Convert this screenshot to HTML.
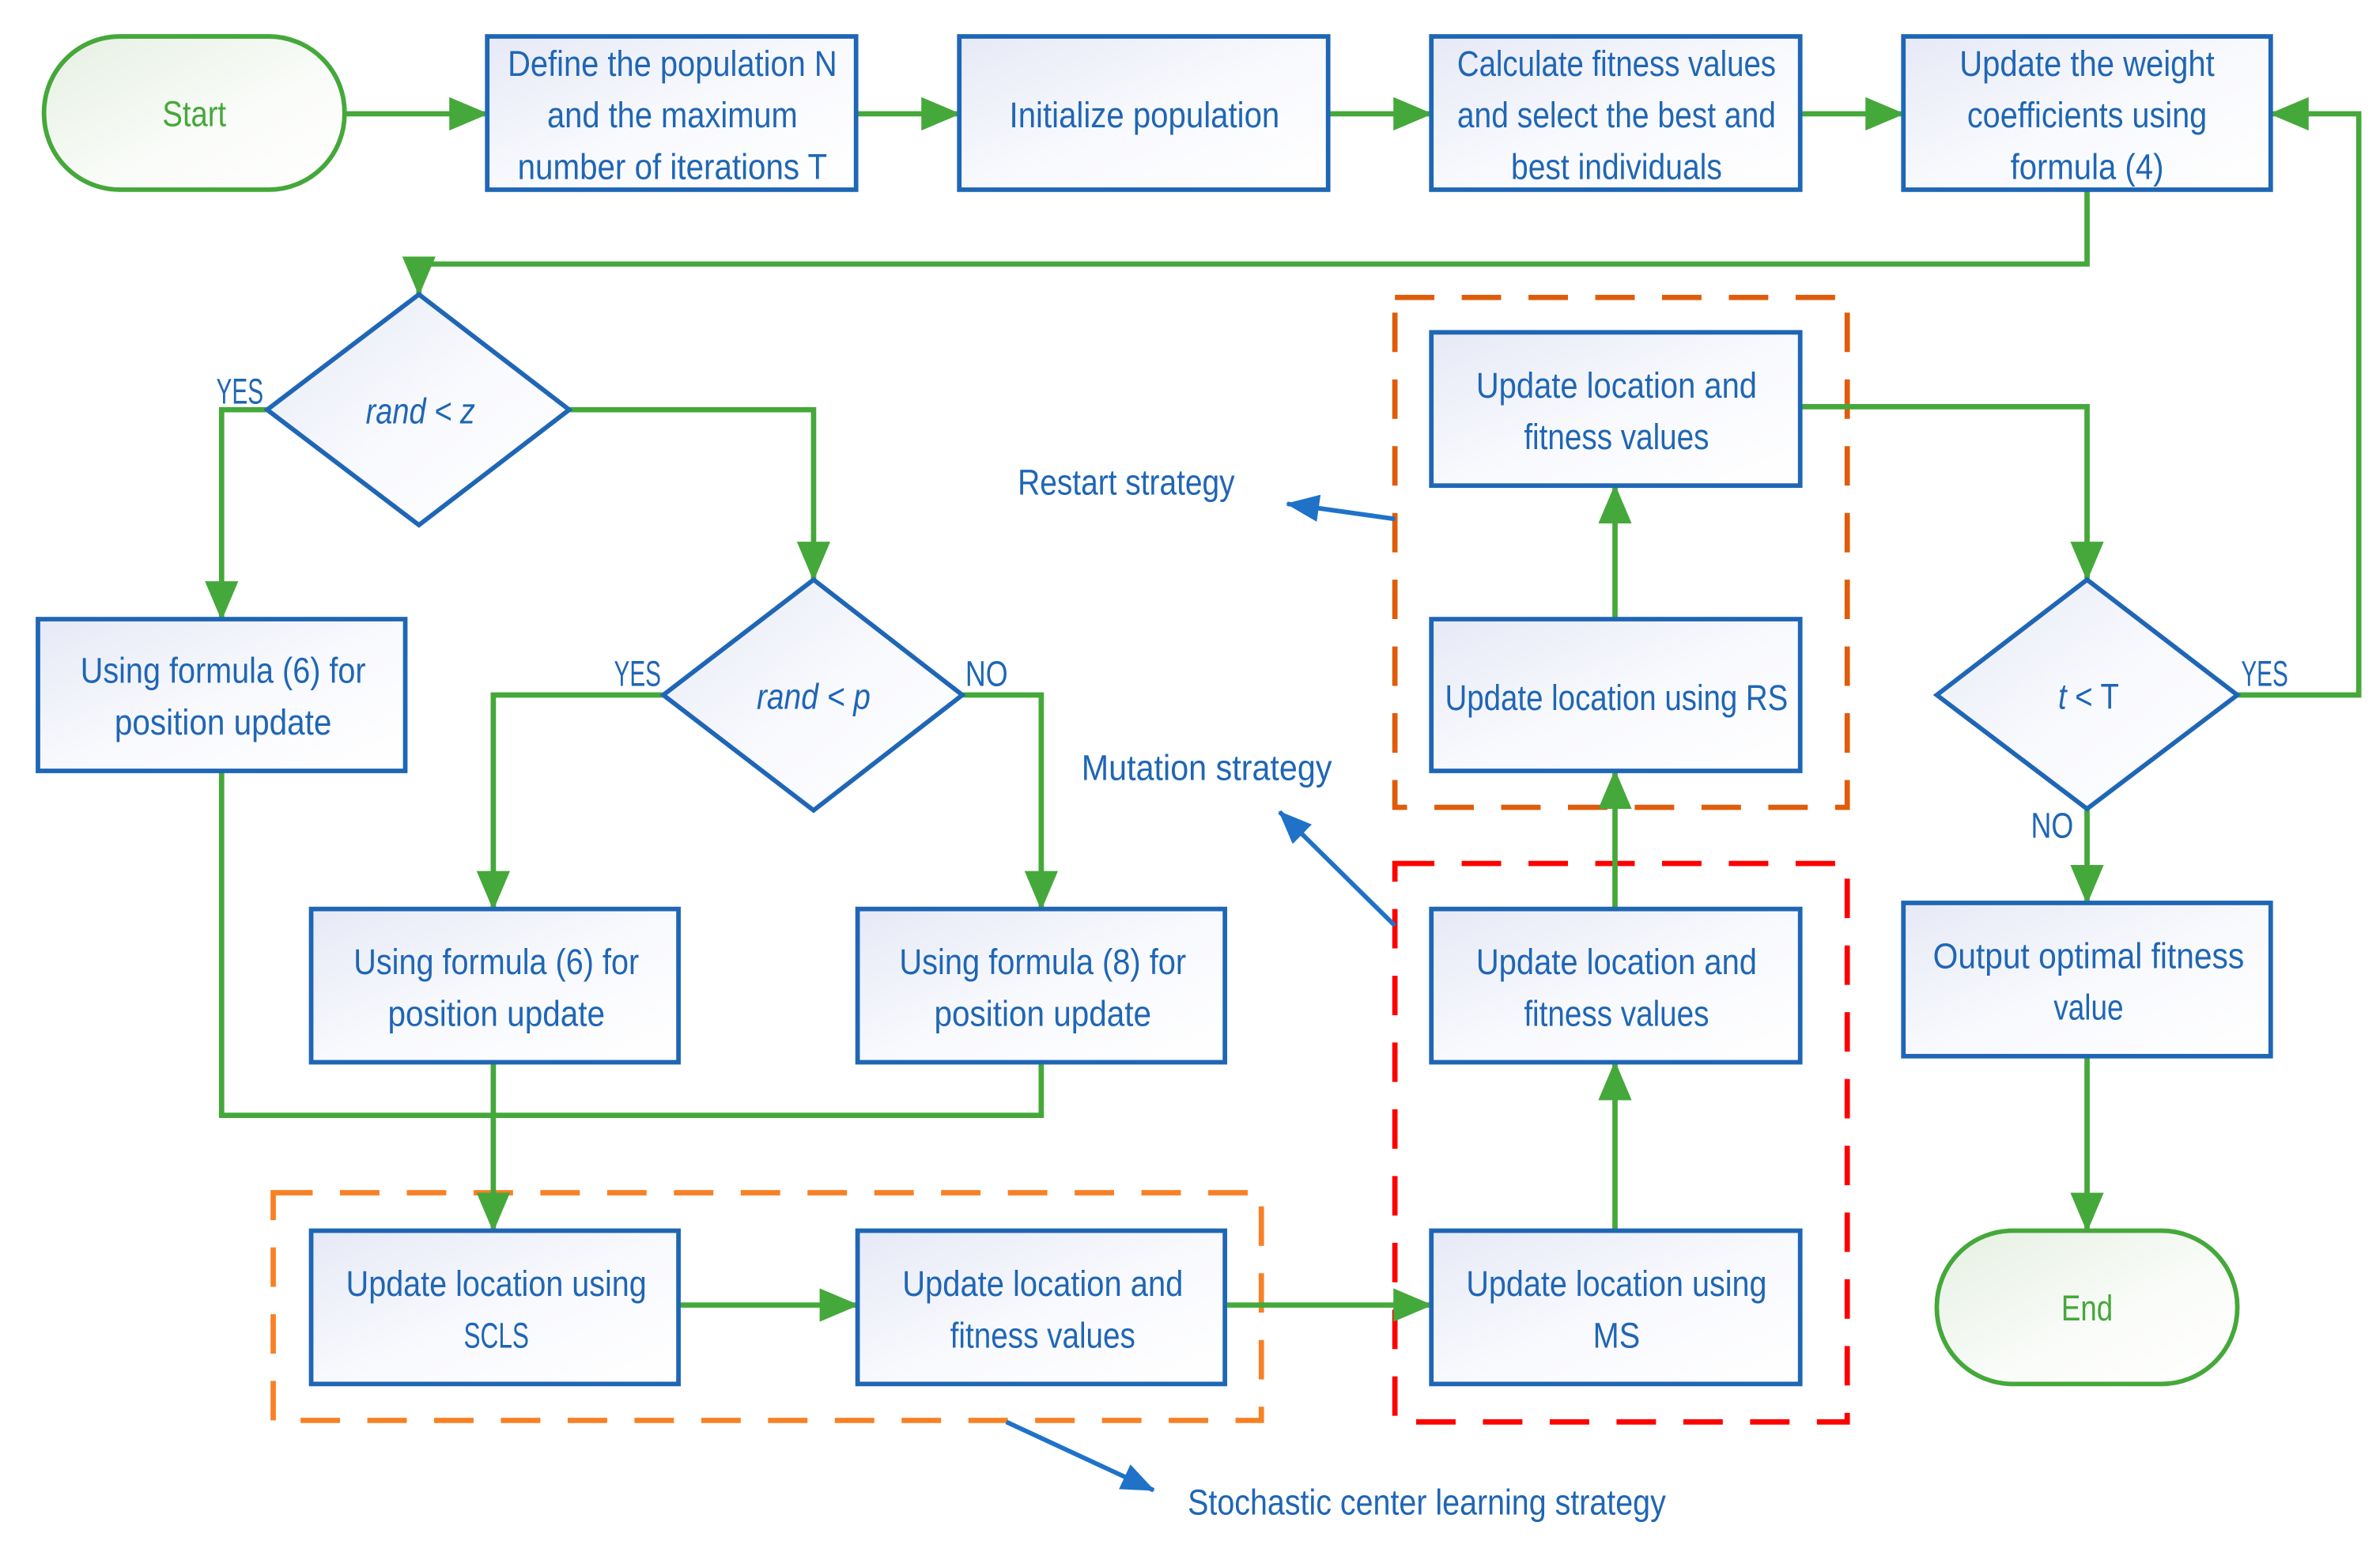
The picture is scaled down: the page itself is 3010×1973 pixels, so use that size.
<!DOCTYPE html>
<html><head><meta charset="utf-8"><style>
html,body{margin:0;padding:0;background:#fff;}
svg{display:block;}
text{font-family:"Liberation Sans",sans-serif;font-size:23.5px;fill:#1f66b5;text-anchor:middle;}
.g{fill:#45a83a;}
</style></head><body>
<svg width="3010" height="1973" viewBox="0 0 1568 1028" preserveAspectRatio="none" xmlns="http://www.w3.org/2000/svg">
<defs>
<linearGradient id="bf" x1="0" y1="0" x2="1" y2="1"><stop offset="0" stop-color="#e6e9f6"/><stop offset="0.5" stop-color="#f8f9fd"/><stop offset="1" stop-color="#ffffff"/></linearGradient>
<linearGradient id="gf" x1="0" y1="0" x2="1" y2="1"><stop offset="0" stop-color="#e6f0e3"/><stop offset="0.6" stop-color="#fafcf9"/><stop offset="1" stop-color="#ffffff"/></linearGradient>
<marker id="agl" markerWidth="26" markerHeight="22" refX="25" refY="11" orient="auto" markerUnits="userSpaceOnUse" viewBox="0 0 26 22"><path d="M0,0 L26,11 L0,22 z" fill="#45a83a"/></marker>
<marker id="ab" markerWidth="22" markerHeight="18" refX="21" refY="9" orient="auto" markerUnits="userSpaceOnUse" viewBox="0 0 22 18"><path d="M0,0 L22,9 L0,18 z" fill="#1f72c8"/></marker>
</defs>

<rect x="919" y="196" width="298" height="336" fill="none" stroke="#e05c0a" stroke-width="3.5" stroke-dasharray="26,18"/>
<rect x="919" y="569" width="298" height="368" fill="none" stroke="#ff0000" stroke-width="3.5" stroke-dasharray="26,18"/>
<rect x="180" y="786" width="651" height="150" fill="none" stroke="#f88025" stroke-width="3.5" stroke-dasharray="26,18"/>

<g stroke="#45a83a" stroke-width="3.5" fill="none">
<line x1="227" y1="75" x2="321" y2="75" marker-end="url(#agl)"/>
<line x1="564" y1="75" x2="632" y2="75" marker-end="url(#agl)"/>
<line x1="875" y1="75" x2="943" y2="75" marker-end="url(#agl)"/>
<line x1="1186" y1="75" x2="1254" y2="75" marker-end="url(#agl)"/>
<polyline points="1375,125 1375,174 276,174 276,194" marker-end="url(#agl)"/>
<polyline points="176,270 146,270 146,408" marker-end="url(#agl)"/>
<polyline points="375,270 536,270 536,382" marker-end="url(#agl)"/>
<polyline points="437,458 325,458 325,599" marker-end="url(#agl)"/>
<polyline points="634,458 686,458 686,599" marker-end="url(#agl)"/>
<polyline points="146,508 146,735 686,735 686,700"/>
<line x1="325" y1="700" x2="325" y2="811" marker-end="url(#agl)"/>
<line x1="447" y1="860" x2="565" y2="860" marker-end="url(#agl)"/>
<line x1="807" y1="860" x2="943" y2="860" marker-end="url(#agl)"/>
<line x1="1064" y1="811" x2="1064" y2="700" marker-end="url(#agl)"/>
<line x1="1064" y1="599" x2="1064" y2="508" marker-end="url(#agl)"/>
<line x1="1064" y1="408" x2="1064" y2="320" marker-end="url(#agl)"/>
<polyline points="1186,268 1375,268 1375,382" marker-end="url(#agl)"/>
<polyline points="1474,458 1554,458 1554,75 1496,75" marker-end="url(#agl)"/>
<line x1="1375" y1="533" x2="1375" y2="595" marker-end="url(#agl)"/>
<line x1="1375" y1="696" x2="1375" y2="811" marker-end="url(#agl)"/>
</g>

<g stroke="#1f72c8" stroke-width="3" fill="none">
<line x1="919" y1="342" x2="848" y2="332" marker-end="url(#ab)"/>
<line x1="919" y1="610" x2="843" y2="535" marker-end="url(#ab)"/>
<line x1="663" y1="937" x2="760" y2="982" marker-end="url(#ab)"/>
</g>

<rect x="29" y="24" width="198" height="101" rx="50" ry="50" fill="url(#gf)" stroke="#45a83a" stroke-width="3"/>
<rect x="1276" y="811" width="198" height="101" rx="50" ry="50" fill="url(#gf)" stroke="#45a83a" stroke-width="3"/>

<g fill="url(#bf)" stroke="#1f66b5" stroke-width="3">
<rect x="321" y="24" width="243" height="101"/>
<rect x="632" y="24" width="243" height="101"/>
<rect x="943" y="24" width="243" height="101"/>
<rect x="1254" y="24" width="242" height="101"/>
<rect x="25" y="408" width="242" height="100"/>
<rect x="205" y="599" width="242" height="101"/>
<rect x="565" y="599" width="242" height="101"/>
<rect x="205" y="811" width="242" height="101"/>
<rect x="565" y="811" width="242" height="101"/>
<rect x="943" y="811" width="243" height="101"/>
<rect x="943" y="599" width="243" height="101"/>
<rect x="943" y="408" width="243" height="100"/>
<rect x="943" y="219" width="243" height="101"/>
<rect x="1254" y="595" width="242" height="101"/>
<polygon points="276,194 375,270 276,346 176,270"/>
<polygon points="536,382 634,458 536,534 437,458"/>
<polygon points="1375,382 1474,458 1375,533 1276,458"/>
</g>

<text class="g" x="128" y="83" textLength="42" lengthAdjust="spacingAndGlyphs">Start</text>
<text class="g" x="1375" y="870" textLength="34" lengthAdjust="spacingAndGlyphs">End</text>

<text x="443" y="50" textLength="217" lengthAdjust="spacingAndGlyphs">Define the population N</text>
<text x="443" y="84" textLength="165" lengthAdjust="spacingAndGlyphs">and the maximum</text>
<text x="443" y="118" textLength="204" lengthAdjust="spacingAndGlyphs">number of iterations T</text>
<text x="754" y="84" textLength="178" lengthAdjust="spacingAndGlyphs">Initialize population</text>
<text x="1065" y="50" textLength="210" lengthAdjust="spacingAndGlyphs">Calculate fitness values</text>
<text x="1065" y="84" textLength="210" lengthAdjust="spacingAndGlyphs">and select the best and</text>
<text x="1065" y="118" textLength="139" lengthAdjust="spacingAndGlyphs">best individuals</text>
<text x="1375" y="50" textLength="168" lengthAdjust="spacingAndGlyphs">Update the weight</text>
<text x="1375" y="84" textLength="158" lengthAdjust="spacingAndGlyphs">coefficients using</text>
<text x="1375" y="118" textLength="101" lengthAdjust="spacingAndGlyphs">formula (4)</text>

<text x="277" y="279" font-style="italic" textLength="72" lengthAdjust="spacingAndGlyphs">rand &lt; z</text>
<text x="536" y="467" font-style="italic" textLength="75" lengthAdjust="spacingAndGlyphs">rand &lt; p</text>
<text x="1376" y="467" textLength="40" lengthAdjust="spacingAndGlyphs"><tspan font-style="italic">t</tspan> &lt; T</text>

<text x="158" y="266" textLength="31" lengthAdjust="spacingAndGlyphs">YES</text>
<text x="420" y="452" textLength="31" lengthAdjust="spacingAndGlyphs">YES</text>
<text x="650" y="452" textLength="28" lengthAdjust="spacingAndGlyphs">NO</text>
<text x="1492" y="452" textLength="31" lengthAdjust="spacingAndGlyphs">YES</text>
<text x="1352" y="552" textLength="28" lengthAdjust="spacingAndGlyphs">NO</text>

<text x="147" y="450" textLength="188" lengthAdjust="spacingAndGlyphs">Using formula (6) for</text>
<text x="147" y="484" textLength="143" lengthAdjust="spacingAndGlyphs">position update</text>
<text x="327" y="642" textLength="188" lengthAdjust="spacingAndGlyphs">Using formula (6) for</text>
<text x="327" y="676" textLength="143" lengthAdjust="spacingAndGlyphs">position update</text>
<text x="687" y="642" textLength="189" lengthAdjust="spacingAndGlyphs">Using formula (8) for</text>
<text x="687" y="676" textLength="143" lengthAdjust="spacingAndGlyphs">position update</text>

<text x="327" y="854" textLength="198" lengthAdjust="spacingAndGlyphs">Update location using</text>
<text x="327" y="888" textLength="43" lengthAdjust="spacingAndGlyphs">SCLS</text>
<text x="687" y="854" textLength="185" lengthAdjust="spacingAndGlyphs">Update location and</text>
<text x="687" y="888" textLength="122" lengthAdjust="spacingAndGlyphs">fitness values</text>
<text x="1065" y="854" textLength="198" lengthAdjust="spacingAndGlyphs">Update location using</text>
<text x="1065" y="888" textLength="31" lengthAdjust="spacingAndGlyphs">MS</text>
<text x="1065" y="642" textLength="185" lengthAdjust="spacingAndGlyphs">Update location and</text>
<text x="1065" y="676" textLength="122" lengthAdjust="spacingAndGlyphs">fitness values</text>
<text x="1065" y="468" textLength="226" lengthAdjust="spacingAndGlyphs">Update location using RS</text>
<text x="1065" y="262" textLength="185" lengthAdjust="spacingAndGlyphs">Update location and</text>
<text x="1065" y="296" textLength="122" lengthAdjust="spacingAndGlyphs">fitness values</text>
<text x="1376" y="638" textLength="205" lengthAdjust="spacingAndGlyphs">Output optimal fitness</text>
<text x="1376" y="672" textLength="46" lengthAdjust="spacingAndGlyphs">value</text>

<text x="742" y="326" textLength="143" lengthAdjust="spacingAndGlyphs">Restart strategy</text>
<text x="795" y="514" textLength="165" lengthAdjust="spacingAndGlyphs">Mutation strategy</text>
<text x="940" y="998" textLength="315" lengthAdjust="spacingAndGlyphs">Stochastic center learning strategy</text>
</svg>
</body></html>
